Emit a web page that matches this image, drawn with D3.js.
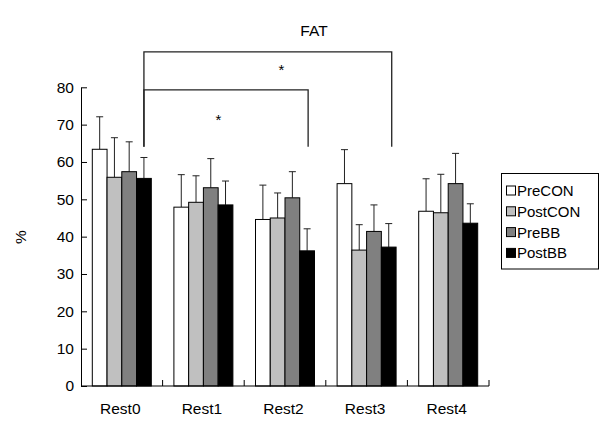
<!DOCTYPE html>
<html>
<head>
<meta charset="utf-8">
<script src="https://cdn.jsdelivr.net/npm/d3@7"></script>
<style>
  html, body { margin: 0; padding: 0; background: #fff; }
  text { font-family: "Liberation Sans", Arial, sans-serif; fill: #000; }
</style>
</head>
<body>
<svg id="chart" width="615" height="425"></svg>
<script>
const categories = ["Rest0", "Rest1", "Rest2", "Rest3", "Rest4"];
const seriesNames = ["PreCON", "PostCON", "PreBB", "PostBB"];
const seriesColors = ["#ffffff", "#c0c0c0", "#808080", "#000000"];
const preCON  = [63.4, 47.9, 44.6, 54.2, 46.8];
const postCON = [55.9, 49.2, 45.0, 36.4, 46.4];
const preBB   = [57.4, 53.1, 50.4, 41.4, 54.2];
const postBB  = [55.6, 48.5, 36.2, 37.2, 43.6];
const errPreCON  = [8.7, 8.7, 9.2, 9.1, 8.7];
const errPostCON = [10.6, 7.1, 6.7, 6.8, 10.3];
const errPreBB   = [8.0, 7.8, 7.0, 7.1, 8.1];
const errPostBB  = [5.6, 6.4, 5.9, 6.3, 5.2];
const yTicks = [0, 10, 20, 30, 40, 50, 60, 70, 80];
const brackets = [
  { from: "Rest0", to: "Rest2", level: 79.3, bottom: 64.1, label: "*", starLevel: 72.1 },
  { from: "Rest0", to: "Rest3", level: 89.5, bottom: 64.1, label: "*", starLevel: 85.5 }
];

(function () {
const values = [preCON, postCON, preBB, postBB];
const errors = [errPreCON, errPostCON, errPreBB, errPostBB];

const svg = d3.select("#chart");
svg.append("rect").attr("width", 615).attr("height", 425).attr("fill", "#fff");

const mLeft = 81, mRight = 489, mTop = 87.3, mBottom = 386;
const x = d3.scaleBand().domain(categories).range([mLeft, mRight]).paddingInner(0.277).paddingOuter(0.1385);
const xs = d3.scaleBand().domain(seriesNames).range([0, x.bandwidth()]);
const y = d3.scaleLinear().domain([0, 80]).range([mBottom, mTop]);

const data = [];
categories.forEach((c, i) => {
  seriesNames.forEach((s, j) => {
    data.push({ cat: c, ser: s, j, v: values[j][i], e: errors[j][i] });
  });
});

const eb = svg.append("g").attr("stroke", "#222").attr("stroke-width", 1);
data.forEach(d => {
  const cx = x(d.cat) + xs(d.ser) + xs.bandwidth() / 2;
  eb.append("line").attr("x1", cx).attr("x2", cx).attr("y1", y(d.v)).attr("y2", y(d.v + d.e));
  eb.append("line").attr("x1", cx - 3.5).attr("x2", cx + 3.5).attr("y1", y(d.v + d.e)).attr("y2", y(d.v + d.e));
});

svg.append("g").selectAll("rect").data(data).join("rect")
  .attr("x", d => x(d.cat) + xs(d.ser))
  .attr("y", d => y(d.v))
  .attr("width", xs.bandwidth())
  .attr("height", d => y(0) - y(d.v))
  .attr("fill", d => seriesColors[d.j])
  .attr("stroke", "#000")
  .attr("stroke-width", 1);

const yAxis = d3.axisLeft(y).tickValues(yTicks).tickSizeInner(-6).tickSizeOuter(0).tickPadding(7);
const gy = svg.append("g").attr("transform", `translate(${mLeft},0)`).call(yAxis);
gy.selectAll("text").style("font-size", "15.5px").style("font-family", '"Liberation Sans", Arial, sans-serif');
gy.select(".domain").attr("stroke", "#000");
gy.selectAll(".tick line").attr("stroke", "#000");

const gx = svg.append("g");
gx.append("line").attr("x1", mLeft).attr("x2", mRight).attr("y1", mBottom).attr("y2", mBottom).attr("stroke", "#000");
const step = x.step();
categories.forEach((c, i) => {
  const tx = Math.min(mLeft + step * (i + 1), mRight);
  gx.append("line").attr("x1", tx).attr("x2", tx)
    .attr("y1", mBottom).attr("y2", mBottom - 6).attr("stroke", "#000");
  gx.append("text").attr("x", x(c) + x.bandwidth() / 2 - 1.5).attr("y", 414)
    .attr("text-anchor", "middle").style("font-size", "15.5px").text(c);
});

const blackCenter = c => x(c) + xs("PostBB") + xs.bandwidth() / 2;
const starFrac = [0.454, 0.555];
brackets.forEach((b, i) => {
  const x1 = blackCenter(b.from), x2 = blackCenter(b.to) + (i === 1 ? 3 : 1);
  svg.append("path")
    .attr("d", `M${x1},${y(b.bottom)}V${y(b.level)}H${x2}V${y(b.bottom)}`)
    .attr("fill", "none").attr("stroke", "#222").attr("stroke-width", 1.3);
  svg.append("text").attr("x", x1 + (x2 - x1) * starFrac[i]).attr("y", y(b.starLevel) + 8)
    .attr("text-anchor", "middle").style("font-size", "15px").text(b.label);
});

svg.append("text").attr("x", 314).attr("y", 36).attr("text-anchor", "middle").style("font-size", "15.5px").text("FAT");

svg.append("text").attr("transform", "translate(26,237) rotate(-90)").attr("text-anchor", "middle")
  .style("font-size", "15.5px").text("%");

const lg = svg.append("g");
lg.append("rect").attr("x", 501.5).attr("y", 173.5).attr("width", 97).attr("height", 95.5)
  .attr("fill", "#fff").attr("stroke", "#000").attr("stroke-width", 1);
seriesNames.forEach((s, j) => {
  const cy = 190.5 + j * 20.8;
  lg.append("rect").attr("x", 506.5).attr("y", cy - 4.5).attr("width", 9).attr("height", 9)
    .attr("fill", seriesColors[j]).attr("stroke", "#000").attr("stroke-width", 1);
  lg.append("text").attr("x", 517).attr("y", cy + 5.5).style("font-size", "15px").text(s);
});
})();
</script>
</body>
</html>
